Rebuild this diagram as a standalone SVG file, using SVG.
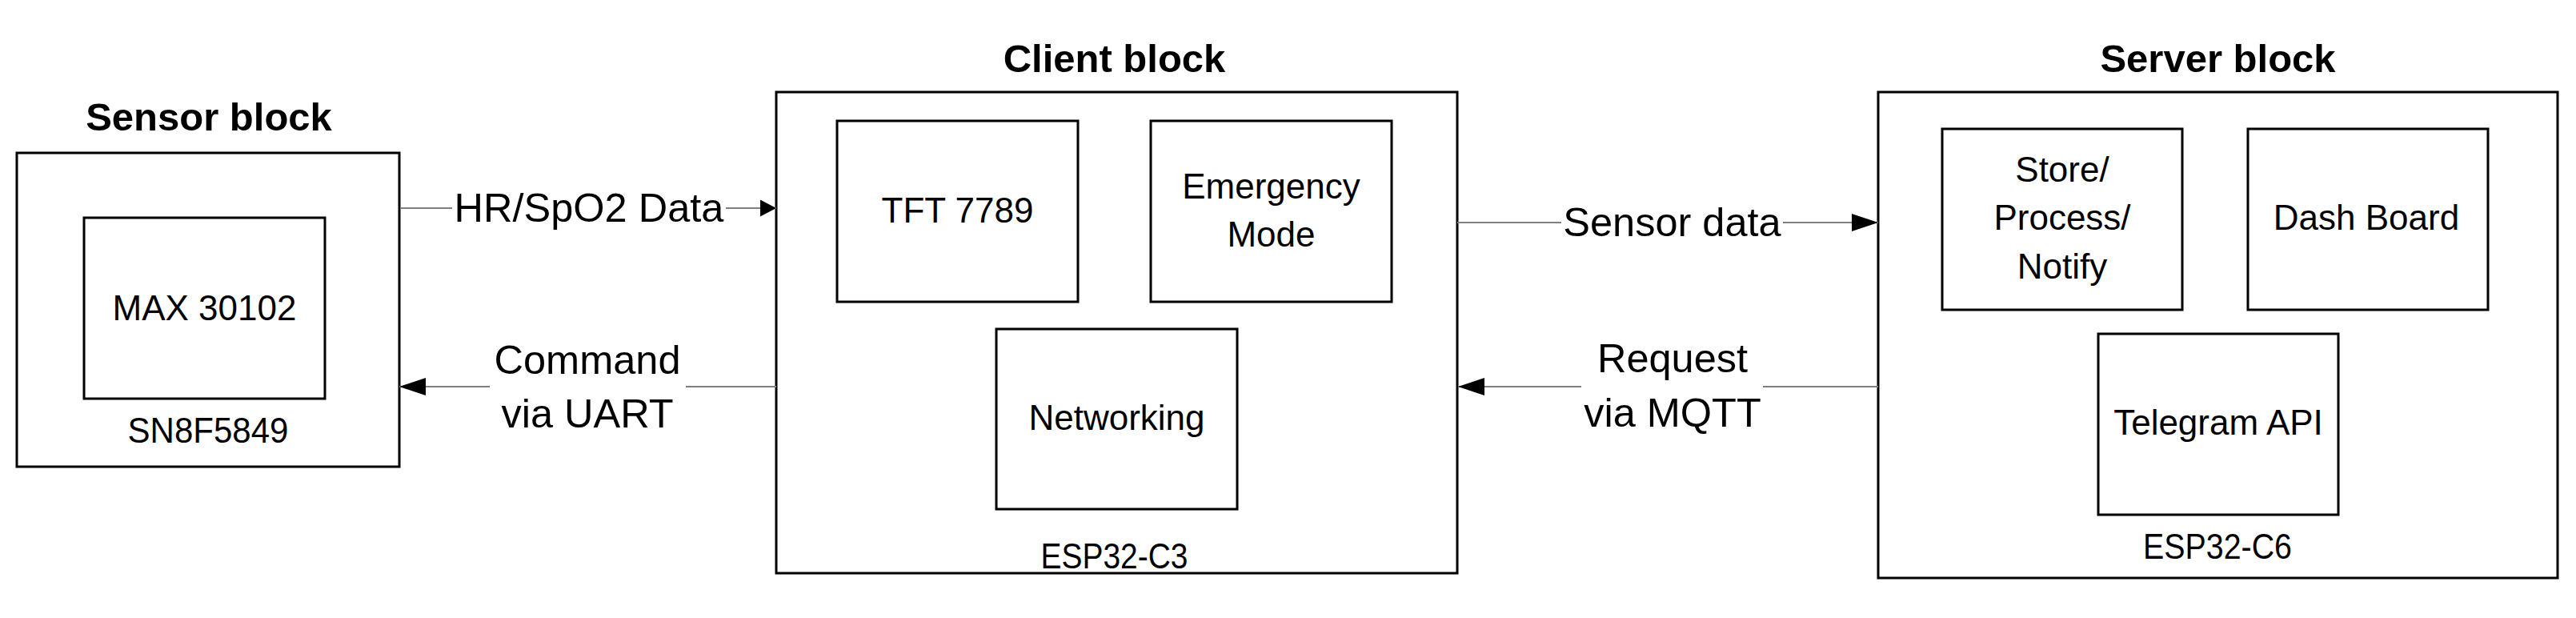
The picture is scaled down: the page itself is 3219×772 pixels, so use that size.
<svg xmlns="http://www.w3.org/2000/svg" width="3219" height="772" viewBox="0 0 3219 772">
<style>
.box{fill:#fff;stroke:#000;stroke-width:3}
.title{font-family:"Liberation Sans",Arial,sans-serif;font-weight:bold;font-size:49px;fill:#000;text-anchor:middle}
.lbl{font-family:"Liberation Sans",Arial,sans-serif;font-size:44px;fill:#000;text-anchor:middle}
.clbl{font-family:"Liberation Sans",Arial,sans-serif;font-size:50.5px;fill:#000;text-anchor:middle}
.conn{fill:none;stroke:#7f7f7f;stroke-width:2}
</style>
<defs>
<marker id="arr" markerUnits="userSpaceOnUse" markerWidth="33" markerHeight="22" refX="33" refY="11" orient="auto">
<path d="M0,0 L33,11 L0,22 Z" fill="#000"/>
</marker>
<marker id="arrS" markerUnits="userSpaceOnUse" markerWidth="20" markerHeight="21" refX="20" refY="10.5" orient="auto">
<path d="M0,0 L20,10.5 L0,21 Z" fill="#000"/>
</marker>
</defs>
<rect width="3219" height="772" fill="#fff"/>

<g id="sensor-block">
<text class="title" x="261" y="163">Sensor block</text>
<rect class="box" x="21" y="191" width="478" height="392"/>
<text class="lbl" x="260" y="553" textLength="201" lengthAdjust="spacingAndGlyphs">SN8F5849</text>
</g>
<g id="max30102">
<rect class="box" x="105" y="272" width="301" height="226"/>
<text class="lbl" x="255.5" y="400">MAX 30102</text>
</g>

<g id="client-block">
<text class="title" x="1392.5" y="90">Client block</text>
<rect class="box" x="970" y="115" width="851" height="601"/>
<text class="lbl" x="1392.5" y="710" textLength="184" lengthAdjust="spacingAndGlyphs">ESP32-C3</text>
</g>
<g id="tft7789">
<rect class="box" x="1046" y="151" width="301" height="226"/>
<text class="lbl" x="1196.5" y="278">TFT 7789</text>
</g>
<g id="emergency-mode">
<rect class="box" x="1438" y="151" width="301" height="226"/>
<text class="lbl" x="1588.5" y="248">Emergency</text>
<text class="lbl" x="1588.5" y="308">Mode</text>
</g>
<g id="networking">
<rect class="box" x="1245" y="411" width="301" height="225"/>
<text class="lbl" x="1395.5" y="537">Networking</text>
</g>

<g id="server-block">
<text class="title" x="2771.5" y="90">Server block</text>
<rect class="box" x="2347" y="115" width="849" height="607"/>
<text class="lbl" x="2771" y="698" textLength="186" lengthAdjust="spacingAndGlyphs">ESP32-C6</text>
</g>
<g id="store-process-notify">
<rect class="box" x="2427" y="161" width="300" height="226"/>
<text class="lbl" x="2577" y="227">Store/</text>
<text class="lbl" x="2577" y="287">Process/</text>
<text class="lbl" x="2577" y="348">Notify</text>
</g>
<g id="dash-board">
<rect class="box" x="2809" y="161" width="300" height="226"/>
<text class="lbl" x="2957" y="287">Dash Board</text>
</g>
<g id="telegram-api">
<rect class="box" x="2622" y="417" width="300" height="226"/>
<text class="lbl" x="2772" y="543">Telegram API</text>
</g>

<g id="connectors">
<path class="conn" d="M500,260 H565 M907,260 H970" marker-end="url(#arrS)"/>
<text class="clbl" x="736" y="277">HR/SpO2 Data</text>
<path class="conn" d="M970,483 H857 M612,483 H499" marker-end="url(#arr)"/>
<text class="clbl" x="734" y="467">Command</text>
<text class="clbl" x="734" y="534">via UART</text>
<path class="conn" d="M1821,278 H1951 M2228,278 H2347" marker-end="url(#arr)"/>
<text class="clbl" x="2089.5" y="295">Sensor data</text>
<path class="conn" d="M2347,483 H2203 M1976,483 H1822" marker-end="url(#arr)"/>
<text class="clbl" x="2090" y="465">Request</text>
<text class="clbl" x="2090" y="533">via MQTT</text>
</g>
</svg>
